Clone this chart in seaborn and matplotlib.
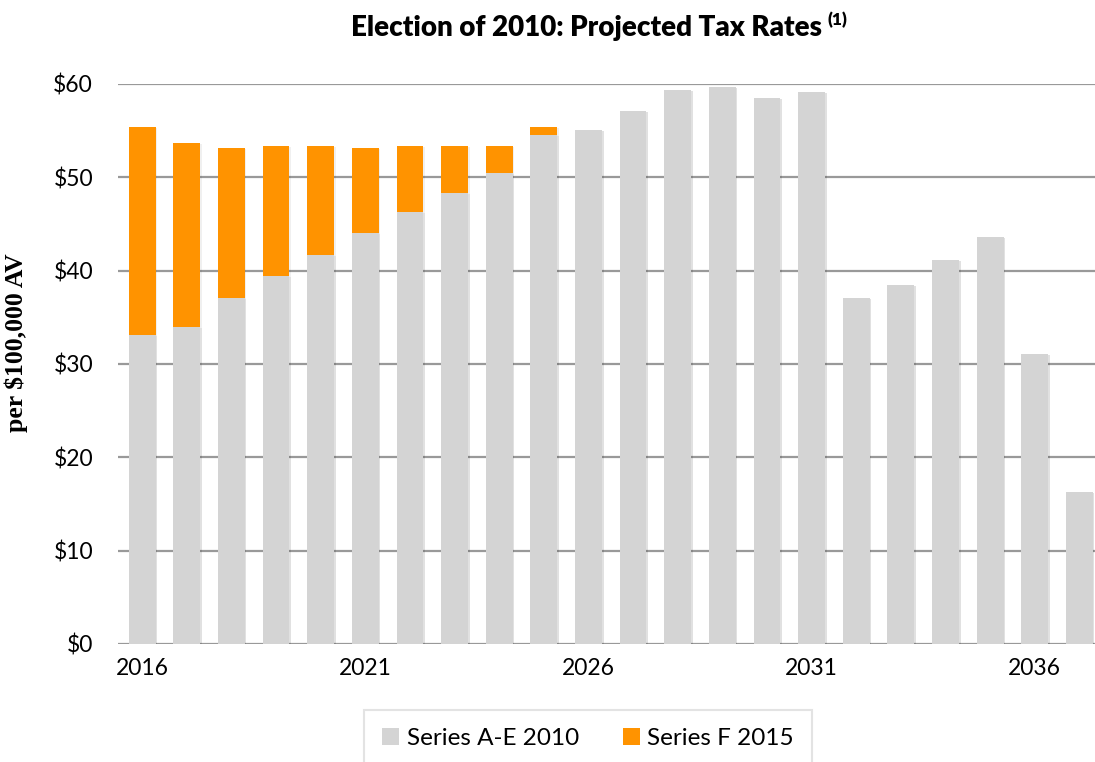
import matplotlib
matplotlib.use("Agg")
import matplotlib.pyplot as plt
import matplotlib.patheffects as pe
from matplotlib.patches import Patch
import seaborn as sns
import pandas as pd

# Fiscal years and projected tax rates (dollars per $100,000 assessed value)
years = list(range(2016, 2038))
series_ae_2010 = [33.1, 34.0, 37.1, 39.4, 41.7, 44.0, 46.3, 48.3, 50.5, 54.5,
                  55.1, 57.1, 59.4, 59.7, 58.5, 59.1, 37.1, 38.5, 41.1, 43.6,
                  31.1, 16.25]
series_f_2015 = [22.3, 19.7, 16.0, 14.0, 11.7, 9.1, 7.1, 5.1, 2.9, 0.9,
                 0, 0, 0, 0, 0, 0, 0, 0, 0, 0, 0, 0]
year_ticks = [2016, 2021, 2026, 2031, 2036]
y_ticks = [0, 10, 20, 30, 40, 50, 60]

GRAY = "#D4D4D4"
ORANGE = "#FF9300"

df = pd.DataFrame({"year": [str(y) for y in years],
                   "a_e": series_ae_2010,
                   "f": series_f_2015})
df["total"] = df["a_e"] + df["f"]

sns.set_theme(style="white")
plt.rcParams["font.family"] = ["Lato", "DejaVu Sans"]
plt.rcParams["text.color"] = "#000000"

fig = plt.figure(figsize=(10.95, 7.62), dpi=100)
ax = fig.add_axes([0.1078, 0.1549, 0.8922, 0.7349])

shadow = [pe.SimplePatchShadow(offset=(1.2, -0.8), shadow_rgbFace="#000000", alpha=0.06), pe.Normal()]

# Stacked bars: full height in orange, Series A-E overlaid in gray
sns.barplot(data=df, x="year", y="total", color=ORANGE, saturation=1,
            width=0.6, ax=ax, zorder=3)
sns.barplot(data=df, x="year", y="a_e", color=GRAY, saturation=1,
            width=0.6, ax=ax, zorder=4)
for p in ax.patches:
    p.set_edgecolor("none")
    p.set_path_effects(shadow)

ax.set_xlim(-0.54, 21.35)
ax.set_ylim(0, 60)
ax.set_yticks(y_ticks)
ax.set_yticklabels([f"${v}" for v in y_ticks])
ax.set_xticks([years.index(y) for y in year_ticks])
ax.set_xticklabels([str(y) for y in year_ticks])
ax.tick_params(axis="both", labelsize=16.5, length=0, colors="#000000")
ax.tick_params(axis="y", pad=18)
ax.tick_params(axis="x", pad=10)

for v in y_ticks:
    ax.axhline(v, color="#999999", lw=1.6, zorder=1)
for s in ax.spines.values():
    s.set_visible(False)
ax.set_xlabel("")
ax.set_ylabel("per $100,000 AV", fontsize=18.5, fontweight="bold",
              family="Liberation Serif", color="#000000")
ax.yaxis.set_label_coords(-0.092, 0.5375)

# Title with superscript note marker
title = fig.text(0.536, 0.963, "Election of 2010: Projected Tax Rates",
                 ha="center", va="center", fontsize=20, fontweight="heavy")
fig.canvas.draw()
bb = title.get_window_extent().transformed(fig.transFigure.inverted())
fig.text(bb.x1 + 0.005, bb.y1 + 0.004, "(1)", ha="left", va="top",
         fontsize=12.5, fontweight="heavy")

handles = [Patch(facecolor=GRAY, edgecolor="none", label="Series A-E 2010"),
           Patch(facecolor=ORANGE, edgecolor="none", label="Series F 2015")]
leg = fig.legend(handles=handles, loc="upper center", bbox_to_anchor=(0.537, 0.068),
                 ncol=2, fontsize=17.5, frameon=True, fancybox=False,
                 handlelength=0.7, handleheight=0.7, handletextpad=0.3,
                 columnspacing=1.8, borderpad=0.75, borderaxespad=0)
leg.get_frame().set_edgecolor("#DDDDDD")
leg.get_frame().set_linewidth(1.5)

fig.savefig("out.png", dpi=100)
